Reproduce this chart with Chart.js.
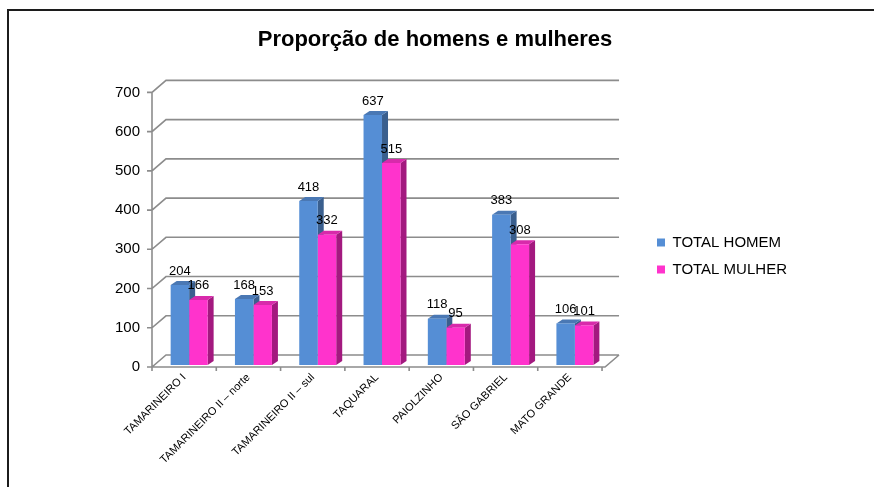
<!DOCTYPE html>
<html>
<head>
<meta charset="utf-8">
<script src="https://cdn.jsdelivr.net/npm/chart.js@4.4.1/dist/chart.umd.min.js"></script>
<style>
  html, body { margin: 0; padding: 0; background: #fff; }
  #wrap { position: relative; width: 874px; height: 487px; overflow: hidden; }
  #grafico { position: absolute; left: 0; top: 0; }
  #moldura { position: absolute; left: 7px; top: 9px; right: -4px; bottom: -4px;
             border-top: 2px solid #1c1c1c; border-left: 2px solid #1c1c1c; pointer-events: none; }
</style>
</head>
<body>
<div id="wrap">
  <canvas id="grafico" width="874" height="487"></canvas>
  <div id="moldura"></div>
</div>
<script>
const bairros = ['TAMARINEIRO I', 'TAMARINEIRO II – norte', 'TAMARINEIRO II – sul',
                 'TAQUARAL', 'PAIOLZINHO', 'SÃO GABRIEL', 'MATO GRANDE'];
const totalHomem  = [204, 168, 418, 637, 118, 383, 106];
const totalMulher = [166, 153, 332, 515, 95, 308, 101];
const eixoY = { min: 0, max: 700, passo: 100 };

const FONTE = "'Liberation Sans', Arial, Helvetica, sans-serif";
// profundidade do "fundo" 3D e das barras (estilo Excel)
const FUNDO_X = 14, FUNDO_Y = 12;
const LADO_X = 6, LADO_Y = 4;
const DESL_X = 5, DESL_Y = -2;

const ctx = document.getElementById('grafico').getContext('2d');

// faces laterais e topo de uma barra (ja deslocadas)
function desenharLados(ctx, barra, ds) {
    const { x, y, base, width } = barra.getProps(['x', 'y', 'base', 'width'], true);
    const e = x - width / 2 + DESL_X, d = x + width / 2 + DESL_X;
    const yt = y + DESL_Y, yb = base + DESL_Y;
    ctx.fillStyle = ds.corLado;
    ctx.beginPath();
    ctx.moveTo(d, yt);
    ctx.lineTo(d + LADO_X, yt - LADO_Y);
    ctx.lineTo(d + LADO_X, yb - LADO_Y);
    ctx.lineTo(d, yb);
    ctx.closePath();
    ctx.fill();
    ctx.fillStyle = ds.corTopo;
    ctx.beginPath();
    ctx.moveTo(e, yt);
    ctx.lineTo(e + LADO_X, yt - LADO_Y);
    ctx.lineTo(d + LADO_X, yt - LADO_Y);
    ctx.lineTo(d, yt);
    ctx.closePath();
    ctx.fill();
}

// paredes, chao, grade em perspectiva e lados das barras
const fundo3d = {
    id: 'fundo3d',
    beforeDatasetsDraw(chart) {
        const { ctx, chartArea: a, scales: { x, y } } = chart;
        const fim = a.right + FUNDO_X + 3;
        const p0 = y.getPixelForValue(eixoY.min);
        const pTopo = y.getPixelForValue(eixoY.max);
        ctx.save();
        ctx.strokeStyle = '#8c8c8c';
        ctx.lineWidth = 1.6;
        ctx.beginPath();
        y.ticks.forEach(t => {
            const py = y.getPixelForValue(t.value);
            ctx.moveTo(a.left - 5, py);
            ctx.lineTo(a.left, py);
            ctx.lineTo(a.left + FUNDO_X, py - FUNDO_Y);
            ctx.lineTo(fim, py - FUNDO_Y);
        });
        // chao
        ctx.moveTo(a.left, p0);
        ctx.lineTo(fim - FUNDO_X, p0);
        ctx.lineTo(fim, p0 - FUNDO_Y);
        // eixo vertical da frente
        ctx.moveTo(a.left, p0);
        ctx.lineTo(a.left, pTopo);
        // marcas entre categorias
        const n = bairros.length;
        for (let i = 0; i <= n; i++) {
            const px = a.left + i * a.width / n;
            ctx.moveTo(px, p0);
            ctx.lineTo(px, p0 + 4);
        }
        ctx.stroke();

        // lados e topos antes das frentes: a frente rosa cobre o lado azul
        chart.data.datasets.forEach((ds, i) => {
            chart.getDatasetMeta(i).data.forEach(barra => desenharLados(ctx, barra, ds));
        });
        ctx.restore();
    }
};

// desloca as frentes das barras para o meio da profundidade + rotulos
const barras3d = {
    id: 'barras3d',
    beforeDatasetDraw(chart) {
        chart.ctx.save();
        chart.ctx.translate(DESL_X, DESL_Y);
    },
    afterDatasetDraw(chart) {
        chart.ctx.restore();
    },
    afterDatasetsDraw(chart) {
        const ctx = chart.ctx;
        ctx.save();
        ctx.font = '13px ' + FONTE;
        ctx.fillStyle = '#000';
        ctx.textAlign = 'center';
        ctx.textBaseline = 'middle';
        chart.data.datasets.forEach((ds, i) => {
            chart.getDatasetMeta(i).data.forEach((barra, j) => {
                const { x, y } = barra.getProps(['x', 'y'], true);
                ctx.fillText(String(ds.data[j]), x + DESL_X, y + DESL_Y - LADO_Y - 10);
            });
        });
        ctx.restore();
    },
    afterLayout(chart) {
        // legenda mais a direita; titulo centrado na largura toda
        const lg = chart.legend;
        const w = lg.width, h = lg.height;
        lg.left = 645; lg.right = 645 + w;
        lg.top = 223; lg.bottom = 223 + h;
        const tb = chart.titleBlock;
        tb.left = -2; tb.right = 872; tb.width = 874;
    }
};

new Chart(ctx, {
    type: 'bar',
    data: {
        labels: bairros,
        datasets: [
            {
                label: 'TOTAL HOMEM',
                data: totalHomem,
                backgroundColor: '#558ed5',
                corLado: '#3a5f8e',
                corTopo: '#4a78b4',
                borderWidth: 0,
                clip: false,
                categoryPercentage: 0.575,
                barPercentage: 1
            },
            {
                label: 'TOTAL MULHER',
                data: totalMulher,
                backgroundColor: '#ff33cc',
                corLado: '#a3197f',
                corTopo: '#d82aab',
                borderWidth: 0,
                clip: false,
                categoryPercentage: 0.575,
                barPercentage: 1
            }
        ]
    },
    options: {
        responsive: false,
        animation: false,
        layout: { padding: { left: 0, right: 120, top: 0, bottom: 0 } },
        plugins: {
            title: {
                display: true,
                text: 'Proporção de homens e mulheres',
                color: '#000',
                font: { family: FONTE, size: 22, weight: 'bold' },
                padding: { top: 27, bottom: 39 }
            },
            legend: {
                position: 'right',
                align: 'start',
                labels: {
                    color: '#000',
                    font: { family: FONTE, size: 15 },
                    boxWidth: 8,
                    boxHeight: 8,
                    padding: 12
                }
            },
            tooltip: { enabled: false }
        },
        scales: {
            x: {
                grid: { display: false, drawTicks: false },
                border: { display: false },
                ticks: {
                    color: '#000',
                    font: { family: FONTE, size: 11 },
                    minRotation: 45,
                    maxRotation: 45,
                    autoSkip: false,
                    padding: 4
                },
                afterFit(s) { s.height = 120; }
            },
            y: {
                min: eixoY.min,
                max: eixoY.max,
                grid: { display: false, drawTicks: false },
                border: { display: false },
                ticks: {
                    stepSize: eixoY.passo,
                    color: '#000',
                    font: { family: FONTE, size: 15 },
                    padding: 12
                },
                afterFit(s) { s.width = 152; }
            }
        }
    },
    plugins: [fundo3d, barras3d]
});
</script>
</body>
</html>
